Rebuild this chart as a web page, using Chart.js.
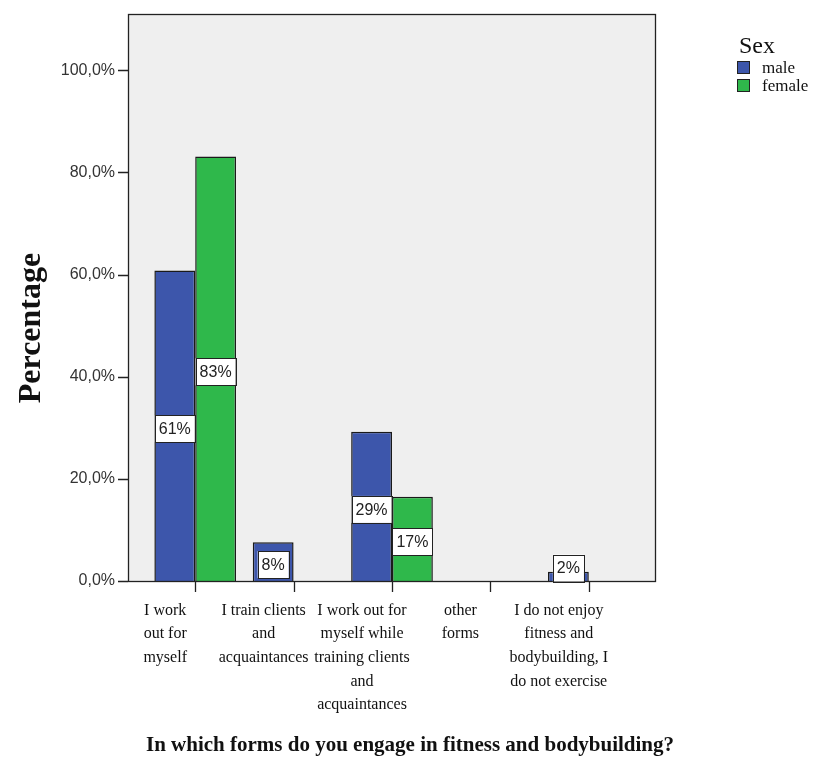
<!DOCTYPE html>
<html>
<head>
<meta charset="utf-8">
<script src="https://cdn.jsdelivr.net/npm/chart.js@4/dist/chart.umd.min.js"></script>
<style>
    html, body { margin: 0; padding: 0; background: #fff; }
    #wrap { width: 814px; height: 758px; }
</style>
</head>
<body>
<div id="wrap"><canvas id="chart" width="814" height="758"></canvas></div>
<script>
const categories = [
    ['I work', 'out for', 'myself'],
    ['I train clients', 'and', 'acquaintances'],
    ['I work out for', 'myself while', 'training clients', 'and', 'acquaintances'],
    ['other', 'forms'],
    ['I do not enjoy', 'fitness and', 'bodybuilding, I', 'do not exercise']
];
const maleValues = [60.8, 7.6, 29.2, 0, 1.8];
const femaleValues = [83.1, 0, 16.5, 0, 0];
const yTicks = [0, 20, 40, 60, 80, 100];
const seriesNames = ['male', 'female'];
const seriesColors = ['#3d56ab', '#2fb84b'];

const xTitle = 'In which forms do you engage in fitness and bodybuilding?';
const yTitle = 'Percentage';
const legendTitle = 'Sex';

const PAD = 18; // gap between frame and first/last category

const spssLook = {
    id: 'spssLook',
    beforeDraw(chart) {
        const { ctx, chartArea: a } = chart;
        ctx.save();
        ctx.fillStyle = '#efefef';
        ctx.fillRect(a.left - PAD, a.top, a.right - a.left + PAD * 2, a.bottom - a.top);
        ctx.restore();
    },
    afterDatasetsDraw(chart) {
        const { ctx, chartArea: a, scales } = chart;
        ctx.save();
        // frame
        ctx.strokeStyle = '#222';
        ctx.lineWidth = 1.3;
        ctx.strokeRect(a.left - PAD + 0.5, a.top + 0.5, a.right - a.left + PAD * 2 - 1, a.bottom - a.top);
        // y tick marks
        ctx.beginPath();
        yTicks.forEach(v => {
            const y = Math.round(scales.y.getPixelForValue(v)) + 0.5;
            ctx.moveTo(a.left - PAD - 10, y);
            ctx.lineTo(a.left - PAD, y);
        });
        // x tick marks
        categories.forEach((c, i) => {
            const x = Math.round(scales.x.getPixelForValue(i)) + 0.5;
            ctx.moveTo(x, a.bottom);
            ctx.lineTo(x, a.bottom + 11);
        });
        ctx.stroke();

        // value boxes
        ctx.lineWidth = 1;
        ctx.font = '16px "Liberation Sans", Arial, sans-serif';
        ctx.textAlign = 'center';
        ctx.textBaseline = 'middle';
        chart.data.datasets.forEach((ds, di) => {
            const meta = chart.getDatasetMeta(di);
            meta.data.forEach((bar, i) => {
                const v = ds.data[i];
                if (!v) return;
                const txt = Math.round(v) + '%';
                const w = ctx.measureText(txt).width + 8;
                const h = 27;
                let cy = (bar.y + bar.base) / 2 + 3;
                cy = Math.min(cy, a.bottom - 13);
                ctx.fillStyle = '#fff';
                ctx.fillRect(bar.x - w / 2, cy - h / 2, w, h);
                ctx.strokeStyle = '#222';
                ctx.strokeRect(Math.round(bar.x - w / 2) + 0.5, Math.round(cy - h / 2) + 0.5, Math.round(w), h);
                ctx.fillStyle = '#222';
                ctx.fillText(txt, bar.x, cy + 1);
            });
        });

        // axis titles
        ctx.fillStyle = '#111';
        ctx.font = 'bold 21px "Liberation Serif", "Times New Roman", serif';
        ctx.textAlign = 'center';
        ctx.textBaseline = 'alphabetic';
        ctx.fillText(xTitle, 410, 751);

        ctx.save();
        ctx.translate(40, 328);
        ctx.rotate(-Math.PI / 2);
        ctx.font = 'bold 32px "Liberation Serif", "Times New Roman", serif';
        ctx.fillText(yTitle, 0, 0);
        ctx.restore();

        // legend
        ctx.textAlign = 'left';
        ctx.font = '24px "Liberation Serif", "Times New Roman", serif';
        ctx.fillText(legendTitle, 739, 53);
        ctx.font = '17px "Liberation Serif", "Times New Roman", serif';
        seriesNames.forEach((name, i) => {
            const y = 61 + i * 18;
            ctx.fillStyle = seriesColors[i];
            ctx.fillRect(737, y, 13, 13);
            ctx.strokeStyle = '#222';
            ctx.strokeRect(737.5, y + 0.5, 12, 12);
            ctx.fillStyle = '#111';
            ctx.fillText(name, 762, y + 12);
        });
        ctx.restore();
    }
};

new Chart(document.getElementById('chart'), {
    type: 'bar',
    data: {
        labels: categories,
        datasets: [
            {
                label: seriesNames[0],
                data: maleValues,
                backgroundColor: seriesColors[0],
                borderColor: '#1a1a1a',
                borderWidth: 1.5,
                borderSkipped: 'bottom'
            },
            {
                label: seriesNames[1],
                data: femaleValues,
                backgroundColor: seriesColors[1],
                borderColor: '#1a1a1a',
                borderWidth: 1.5,
                borderSkipped: 'bottom'
            }
        ]
    },
    options: {
        responsive: false,
        animation: false,
        layout: { autoPadding: false, padding: { top: 14, right: 176, left: 0, bottom: 0 } },
        datasets: { bar: { categoryPercentage: 0.83, barPercentage: 1 } },
        plugins: {
            legend: { display: false },
            tooltip: { enabled: false }
        },
        scales: {
            x: {
                grid: { display: false, drawTicks: false },
                border: { display: false },
                afterFit: s => { s.height = 758 - 581; s.paddingLeft = 0; s.paddingRight = 0; },
                ticks: {
                    color: '#111',
                    padding: 18,
                    labelOffset: -30,
                    maxRotation: 0,
                    autoSkip: false,
                    font: { family: '"Liberation Serif", "Times New Roman", serif', size: 16, lineHeight: 1.47 }
                }
            },
            y: {
                min: 0,
                max: 111,
                afterFit: s => { s.width = 128 + PAD; s.paddingTop = 0; s.paddingBottom = 0; },
                afterBuildTicks: s => { s.ticks = yTicks.map(v => ({ value: v })); },
                grid: { display: false, drawTicks: false },
                border: { display: false },
                ticks: {
                    color: '#333',
                    padding: 13 + PAD,
                    font: { family: '"Liberation Sans", Arial, sans-serif', size: 16 },
                    callback: v => v.toFixed(1).replace('.', ',') + '%'
                }
            }
        }
    },
    plugins: [spssLook]
});
</script>
</body>
</html>
